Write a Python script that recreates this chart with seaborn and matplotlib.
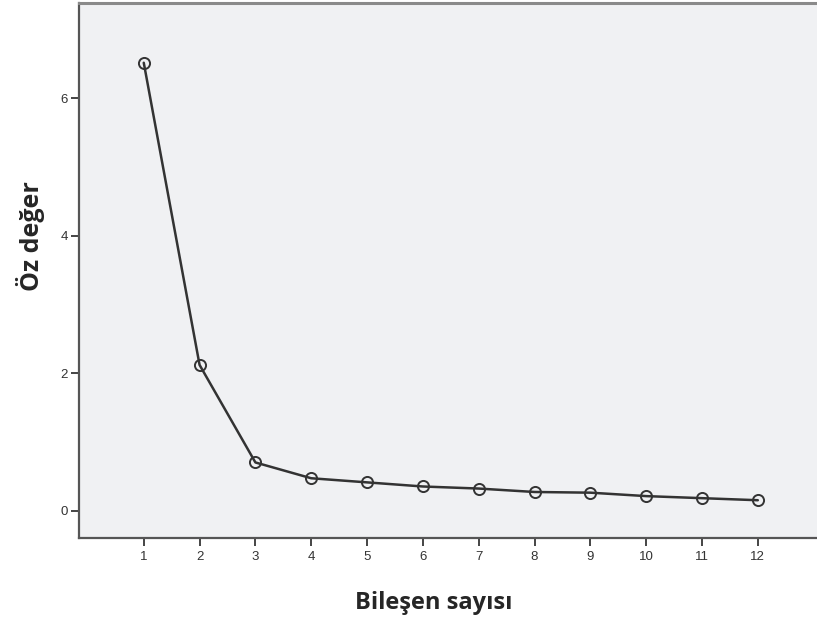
import matplotlib
matplotlib.use("Agg")
import matplotlib.pyplot as plt
import seaborn as sns
import pandas as pd

components = [1, 2, 3, 4, 5, 6, 7, 8, 9, 10, 11, 12]
eigenvalues = [6.52, 2.12, 0.70, 0.47, 0.41, 0.35, 0.32, 0.27, 0.26, 0.21, 0.18, 0.15]
y_ticks = [0, 2, 4, 6]
x_label = "Bileşen sayısı"
y_label = "Öz değer"

df = pd.DataFrame({"comp": components, "eig": eigenvalues})

sns.set_style("white")
plt.rcParams["font.family"] = ["Liberation Sans", "DejaVu Sans"]

fig = plt.figure(figsize=(8.17, 6.17), dpi=100)
ax = fig.add_axes([79 / 817, 79 / 617, 1 - 79 / 817, (538 - 3) / 617])
bg = "#F0F1F3"
ax.set_facecolor(bg)

sns.lineplot(data=df, x="comp", y="eig", ax=ax, color="#333333", linewidth=1.8,
             marker="o", markersize=8, markerfacecolor="none",
             markeredgecolor="#333333", markeredgewidth=1.4)

ax.set_xlim(-0.16, 13.06)
ax.set_ylim(-0.40, 7.39)
ax.set_xticks(components)
ax.set_xticklabels([str(c) for c in components])
ax.set_yticks(y_ticks)
ax.set_yticklabels([str(t) for t in y_ticks])
ax.tick_params(axis="both", which="major", bottom=True, left=True,
               direction="out", length=6, width=1.4, color="#444444",
               labelsize=9.5, labelcolor="#333333", pad=2)
ax.tick_params(axis="x", pad=3)
ax.set_xlabel("")
ax.set_ylabel("")

for side in ["left", "bottom"]:
    ax.spines[side].set_color("#555555")
    ax.spines[side].set_linewidth(1.6)
ax.spines["top"].set_color("#8a8a8a")
ax.spines["top"].set_linewidth(2.2)
ax.spines["right"].set_visible(False)

fig.text(434 / 817, (617 - 603) / 617, x_label, ha="center", va="center",
         fontsize=17, fontweight="bold", family=["Open Sans", "DejaVu Sans"])
fig.text(30 / 817, (617 - 236) / 617, y_label, ha="center", va="center",
         rotation=90, fontsize=18, fontweight="bold", family=["Open Sans", "DejaVu Sans"])

fig.savefig("out.png", dpi=100, facecolor="white")
